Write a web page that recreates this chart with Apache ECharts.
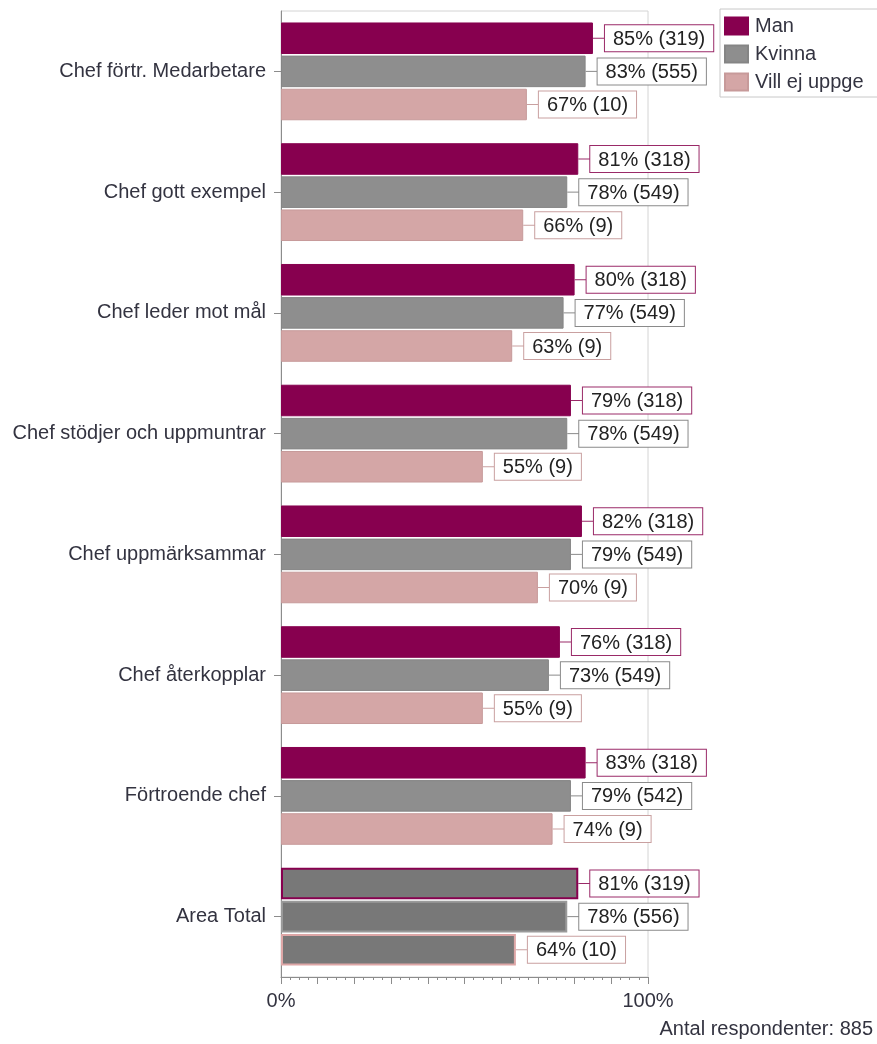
<!DOCTYPE html>
<html>
<head>
<meta charset="utf-8">
<script src="https://cdn.jsdelivr.net/npm/echarts@6/dist/echarts.min.js"></script>
<style>
  html, body { margin: 0; padding: 0; background: #fff; }
  #chart { width: 877px; height: 1044px; }
</style>
</head>
<body>
<div id="chart"></div>
<script>
// Survey results per question, split by respondent gender
const categories = [
  'Chef förtr. Medarbetare',
  'Chef gott exempel',
  'Chef leder mot mål',
  'Chef stödjer och uppmuntrar',
  'Chef uppmärksammar',
  'Chef återkopplar',
  'Förtroende chef',
  'Area Total'
];
const seriesNames = ['Man', 'Kvinna', 'Vill ej uppge'];
const manPct    = [85, 81, 80, 79, 82, 76, 83, 81];
const manN      = [319, 318, 318, 318, 318, 318, 318, 319];
const kvinnaPct = [83, 78, 77, 78, 79, 73, 79, 78];
const kvinnaN   = [555, 549, 549, 549, 549, 549, 542, 556];
const villPct   = [67, 66, 63, 55, 70, 55, 74, 64];
const villN     = [10, 9, 9, 9, 9, 9, 9, 10];
const xTickLabels = { 0: '0%', 100: '100%' };
const respondents = 885;

const FONT = '"Liberation Sans", Arial, sans-serif';
const TEXT = '#333340';
const palette = [
  { fill: '#87004F', edge: '#87004F', box: '#9A2A68', totalEdge: '#87004F' },
  { fill: '#8E8E8E', edge: '#858585', box: '#8A8A8A', totalEdge: '#9A9A9A' },
  { fill: '#D4A6A6', edge: '#C79A9A', box: '#C9A0A0', totalEdge: '#DDA6A6' }
];
const totalFill = '#787878';

function makeSeries(idx, pct, n) {
  const c = palette[idx];
  const data = pct.map((v, i) => {
    const item = { value: v, n: n[i] };
    if (categories[i] === 'Area Total') {
      item.itemStyle = { color: totalFill, borderColor: c.totalEdge, borderWidth: 2 };
    }
    return item;
  });
  return {
    name: seriesNames[idx],
    type: 'bar',
    data: data,
    barCategoryGap: '19%',
    barGap: '5%',
    itemStyle: { color: c.fill, borderColor: c.edge, borderWidth: 1 },
    label: {
      show: true,
      position: 'right',
      distance: 0,
      formatter: p => '{ln| }{bx|' + p.value + '% (' + p.data.n + ')}',
      rich: {
        ln: { width: 12, height: 1, backgroundColor: c.box, verticalAlign: 'middle', fontSize: 1 },
        bx: {
          fontFamily: FONT, fontSize: 20, color: '#222', lineHeight: 22,
          backgroundColor: '#fff', borderColor: c.box, borderWidth: 1,
          padding: [4, 8, 2, 8], verticalAlign: 'middle'
        }
      }
    },
    emphasis: { disabled: true },
    animation: false
  };
}

const chart = echarts.init(document.getElementById('chart'), null, { renderer: 'canvas' });
chart.setOption({
  animation: false,
  textStyle: { fontFamily: FONT },
  grid: {
    left: 281, right: 229, top: 11, bottom: 67,
    show: true, borderColor: '#d4d4d4', borderWidth: 1, backgroundColor: 'transparent'
  },
  legend: {
    orient: 'vertical',
    left: 720, top: 9,
    data: seriesNames,
    icon: 'rect',
    itemWidth: 23, itemHeight: 17,
    itemGap: 8,
    padding: [7, 20, 5, 4],
    borderColor: '#c8c8c8', borderWidth: 1,
    textStyle: { fontFamily: FONT, fontSize: 20, color: TEXT, lineHeight: 20, padding: [0, 0, 0, 2] },
    selectedMode: false
  },
  xAxis: {
    type: 'value',
    min: 0, max: 100, interval: 10,
    axisLine: { show: true, lineStyle: { color: '#8c8c8c' } },
    axisTick: { show: true, length: 7, lineStyle: { color: '#8c8c8c' } },
    minorTick: { show: true, splitNumber: 4, length: 3, lineStyle: { color: '#8c8c8c' } },
    splitLine: { show: false },
    axisLabel: {
      margin: 14,
      fontFamily: FONT, fontSize: 20, color: TEXT,
      formatter: v => xTickLabels[v] || ''
    }
  },
  yAxis: {
    type: 'category',
    inverse: true,
    data: categories,
    axisLine: { show: true, lineStyle: { color: '#8c8c8c' } },
    axisTick: { show: true, alignWithLabel: true, length: 7, lineStyle: { color: '#8c8c8c' } },
    axisLabel: { margin: 15, fontFamily: FONT, fontSize: 20, color: TEXT }
  },
  graphic: [{
    type: 'text',
    right: 4, top: 1019,
    style: { text: 'Antal respondenter: ' + respondents, font: '20px ' + FONT, fill: TEXT }
  }],
  series: [
    makeSeries(0, manPct, manN),
    makeSeries(1, kvinnaPct, kvinnaN),
    makeSeries(2, villPct, villN)
  ]
});
</script>
</body>
</html>
